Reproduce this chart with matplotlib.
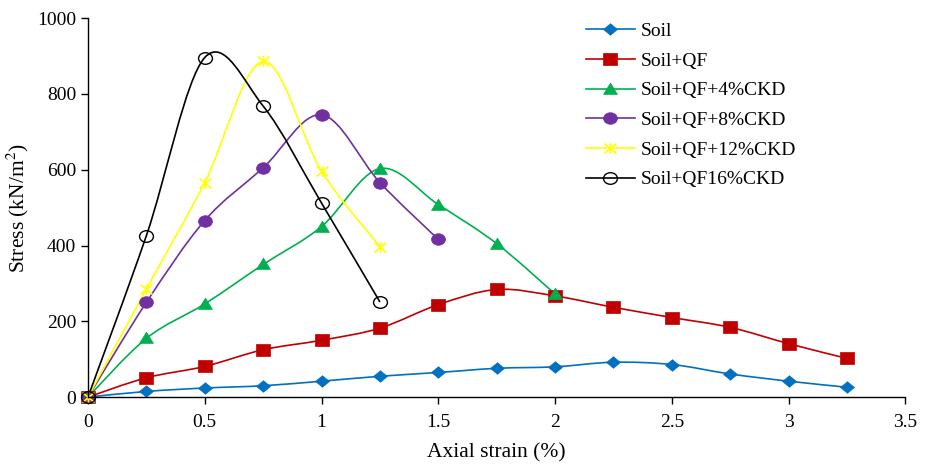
import numpy as np
import matplotlib
matplotlib.use("Agg")
import matplotlib.pyplot as plt
from matplotlib.path import Path
from matplotlib.patches import PathPatch
from matplotlib.lines import Line2D

plt.rcParams['font.family'] = ['Liberation Serif', 'DejaVu Serif']
plt.rcParams['mathtext.fontset'] = 'stix'

# ----------------------------
# DATA
# ----------------------------
strain_soil = [0, 0.25, 0.5, 0.75, 1.0, 1.25, 1.5, 1.75, 2.0, 2.25, 2.5, 2.75, 3.0, 3.25]
stress_soil = [0, 15, 24, 30, 42, 55, 65, 76, 80, 92, 86, 61, 42, 26]

strain_qf = [0, 0.25, 0.5, 0.75, 1.0, 1.25, 1.5, 1.75, 2.0, 2.25, 2.5, 2.75, 3.0, 3.25]
stress_qf = [0, 51, 81, 125, 150, 182, 244, 284, 267, 237, 210, 184, 141, 102]

strain_ckd4 = [0, 0.25, 0.5, 0.75, 1.0, 1.25, 1.5, 1.75, 2.0]
stress_ckd4 = [0, 155, 246, 350, 450, 603, 508, 405, 272]

strain_ckd8 = [0, 0.25, 0.5, 0.75, 1.0, 1.25, 1.5]
stress_ckd8 = [0, 250, 466, 605, 745, 566, 416]

strain_ckd12 = [0, 0.25, 0.5, 0.75, 1.0, 1.25]
stress_ckd12 = [0, 285, 566, 886, 596, 397]

strain_ckd16 = [0, 0.25, 0.5, 0.75, 1.0, 1.25]
stress_ckd16 = [0, 426, 896, 768, 512, 251]

labels = ["Soil", "Soil+QF", "Soil+QF+4%CKD", "Soil+QF+8%CKD",
          "Soil+QF+12%CKD", "Soil+QF16%CKD"]

# Excel markers look slightly stretched sideways
sx = 1.2
ellipse = Path(Path.unit_circle().vertices * [sx, 1.0], Path.unit_circle().codes)
rect = Path([(-sx, -1), (sx, -1), (sx, 1), (-sx, 1), (-sx, -1)], closed=True)
diamond = Path([(0, -1), (sx, 0), (0, 1), (-sx, 0), (0, -1)], closed=True)
tri = Path([(-sx, -0.85), (sx, -0.85), (0, 1.1), (-sx, -0.85)], closed=True)
star = Path([(-sx, -1), (sx, 1), (-sx, 1), (sx, -1), (0, -1.1), (0, 1.1)],
            [Path.MOVETO, Path.LINETO, Path.MOVETO, Path.LINETO, Path.MOVETO, Path.LINETO])

series = [
    (strain_soil, stress_soil, '#0070C0', dict(marker=diamond, ms=10, mfc='#0070C0', mec='#0070C0', mew=0.5)),
    (strain_qf, stress_qf, '#C00000', dict(marker=rect, ms=10, mfc='#C00000', mec='#C00000', mew=0.5)),
    (strain_ckd4, stress_ckd4, '#00B050', dict(marker=tri, ms=10, mfc='#00B050', mec='#00B050', mew=0.5)),
    (strain_ckd8, stress_ckd8, '#7030A0', dict(marker=ellipse, ms=10, mfc='#7030A0', mec='#7030A0', mew=0.5)),
    (strain_ckd12, stress_ckd12, '#FFFF00', dict(marker=star, ms=8.5, mfc='none', mec='#FFFF00', mew=1.2)),
    (strain_ckd16, stress_ckd16, '#000000', dict(marker=ellipse, ms=10, mfc='none', mec='#000000', mew=1.0)),
]


def smooth_path(x, y):
    # Bezier segments with Catmull-Rom style control points (like Excel smoothed lines)
    p = np.column_stack([x, y]).astype(float)
    n = len(p)
    verts = [p[0]]
    codes = [Path.MOVETO]
    for i in range(n - 1):
        p_prev = p[i - 1] if i > 0 else p[i]
        p_next2 = p[i + 2] if i + 2 < n else p[i + 1]
        c1 = p[i] + (p[i + 1] - p_prev) / 6.0
        c2 = p[i + 1] - (p_next2 - p[i]) / 6.0
        verts += [c1, c2, p[i + 1]]
        codes += [Path.CURVE4] * 3
    return Path(verts, codes)


fig = plt.figure(figsize=(9.3, 4.65), dpi=100)
ax = fig.add_axes([0.0946, 0.146, 0.879, 0.815])

handles = []
for (x, y, col, mk), lab in zip(series, labels):
    ax.add_patch(PathPatch(smooth_path(x, y), facecolor='none', edgecolor=col, lw=1.2, clip_on=False))
    ax.plot(x, y, linestyle='none', clip_on=False, **mk)
    handles.append(Line2D([0], [0], color=col, lw=1.2, **mk))

ax.set_xlim(0, 3.5)
ax.set_ylim(0, 1000)
ax.set_xticks(np.arange(0, 3.51, 0.5))
ax.set_xticklabels(["0", "0.5", "1", "1.5", "2", "2.5", "3", "3.5"])
ax.set_yticks(np.arange(0, 1001, 200))
ax.spines['top'].set_visible(False)
ax.spines['right'].set_visible(False)
ax.spines['left'].set_linewidth(1.0)
ax.spines['bottom'].set_linewidth(1.0)
ax.tick_params(direction='out', length=5, width=1, labelsize=14)
ax.tick_params(axis='x', pad=7)
ax.set_xlabel("Axial strain (%)", fontsize=15.5, labelpad=9)
ax.set_ylabel(r"Stress (kN/m$^{2}$)", fontsize=15.5, labelpad=4)

ax.legend(handles=handles, labels=labels, loc='upper left', bbox_to_anchor=(0.588, 1.035),
          frameon=False, fontsize=14, handlelength=2.5, labelspacing=0.62, handletextpad=0.3)

fig.savefig("out.png", dpi=100)
